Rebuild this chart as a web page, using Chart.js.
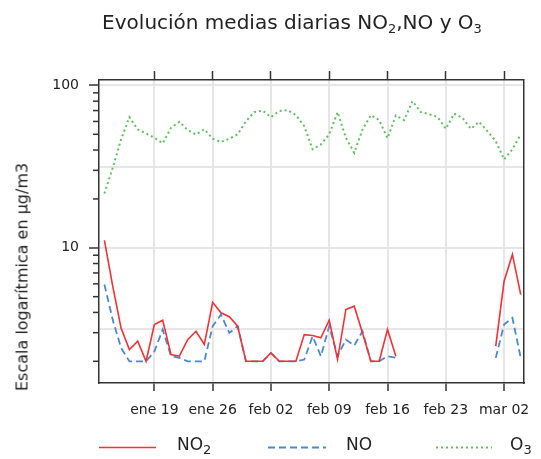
<!DOCTYPE html>
<html>
<head>
<meta charset="utf-8">
<script src="https://cdn.jsdelivr.net/npm/chart.js@4.4.1/dist/chart.umd.min.js"></script>
<style>
  html, body { margin: 0; padding: 0; background: #fff; }
  #wrap { position: relative; width: 541px; height: 459px; font-family: 'DejaVu Sans', sans-serif; color: #222; }
  #chart { position: absolute; left: 0; top: 0; }
  .title { position: absolute; left: 292px; top: 12px; transform: translateX(-50%); white-space: nowrap; font-size: 20px; line-height: 20px; }
  .ytitle { position: absolute; left: 22px; top: 277px; transform: translate(-50%, -50%) rotate(-90deg); white-space: nowrap; font-size: 16px; }
  .sub { font-size: 13px; vertical-align: -4px; line-height: 0; }
  .leg { position: absolute; top: 434px; font-size: 17px; line-height: 20px; white-space: nowrap; }
  #legLines { position: absolute; left: 0; top: 440px; }
</style>
</head>
<body>
<div id="wrap">
  <canvas id="chart" width="541" height="459"></canvas>
  <div class="title">Evolución medias diarias NO<span class="sub">2</span>,NO y O<span class="sub">3</span></div>
  <div class="ytitle">Escala logarítmica en µg/m3</div>
  <svg id="legLines" width="541" height="16">
    <line x1="99" y1="7.5" x2="156" y2="7.5" stroke="rgb(238,50,56)" stroke-width="1.6"/>
    <line x1="268" y1="7.5" x2="326" y2="7.5" stroke="rgb(74,138,204)" stroke-width="1.8" stroke-dasharray="7 4"/>
    <line x1="436" y1="7.5" x2="492" y2="7.5" stroke="rgb(96,188,96)" stroke-width="2" stroke-dasharray="2 3"/>
  </svg>
  <div class="leg" style="left:177px">NO<span class="sub">2</span></div>
  <div class="leg" style="left:346px">NO</div>
  <div class="leg" style="left:510px">O<span class="sub">3</span></div>
</div>
<script>
// daily means, day 0 = ene 13 ... day 50 = mar 04
const no2 = [11.1, 5.8, 3.2, 2.36, 2.66, 2.0, 3.37, 3.58, 2.2, 2.15,
  2.72, 3.06, 2.54, 4.62, 3.98, 3.76, 3.29, 2.0, 2.0, 2.0,
  2.25, 2.0, 2.0, 2.0, 2.92, 2.88, 2.79, 3.58, 2.05, 4.17,
  4.37, 2.99, 2.0, 2.0, 3.14, 2.15, null, null, null, null,
  null, null, null, null, null, null, null, 2.48, 6.22, 9.1, 5.15];
const no = [5.94, 3.6, 2.42, 2.0, 2.0, 2.0, 2.3, 3.14, 2.15, 2.1,
  2.0, 2.0, 2.0, 3.29, 3.88, 2.99, 3.29, 2.0, 2.0, 2.0,
  2.25, 2.0, 2.0, 2.0, 2.05, 2.85, 2.15, 3.29, 2.15, 2.72,
  2.5, 3.06, 2.0, 2.0, 2.15, 2.1, null, null, null, null,
  null, null, null, null, null, null, null, 2.1, 3.37, 3.7, 2.1];
const o3 = [21.6, 31.1, 46.5, 63.8, 53.6, 50.6, 47.6, 44, 54.8, 59.7,
  53.1, 49.9, 53.6, 47.0, 44.8, 47, 50, 60.2, 68.5, 70,
  63.8, 69.5, 70.5, 65.6, 56.1, 40.4, 43.3, 50, 68.5, 47.6,
  38.5, 53.6, 65.6, 61.1, 47.3, 65.3, 61.1, 80, 68.5, 66.5,
  64, 54.1, 67, 63.2, 54.1, 59.7, 52.2, 45.4, 35.0, 40.4, 50];

const tickDays = [6, 13, 20, 27, 34, 41, 48];
const tickLabels = ['ene 19', 'ene 26', 'feb 02', 'feb 09', 'feb 16', 'feb 23', 'mar 02'];
const yLabelTicks = [10, 100];
const yMinorTicks = [2, 3, 4, 5, 6, 7, 8, 9, 20, 30, 40, 50, 60, 70, 80, 90];
const yGridTicks = [3.1623, 10, 31.623, 100];

const toXY = arr => arr.map((v, i) => ({ x: i, y: v }));
const axisColor = '#333';
const gridColor = '#e6e6e6';
const clear = 'rgba(0,0,0,0)';

const minorTickPlugin = {
  id: 'minorTicks',
  afterDraw(chart) {
    const sc = chart.scales.y;
    const ctx = chart.ctx;
    const left = chart.chartArea.left;
    ctx.save();
    ctx.strokeStyle = axisColor;
    ctx.lineWidth = 1.5;
    yMinorTicks.forEach(v => {
      const py = sc.getPixelForValue(v);
      ctx.beginPath();
      ctx.moveTo(left - 6, py);
      ctx.lineTo(left, py);
      ctx.stroke();
    });
    ctx.restore();
  }
};

new Chart(document.getElementById('chart'), {
  type: 'line',
  data: {
    datasets: [
      { label: 'NO2', data: toXY(no2), borderColor: 'rgb(238,50,56)', borderWidth: 1.6 },
      { label: 'NO', data: toXY(no), borderColor: 'rgb(74,138,204)', borderWidth: 1.8, borderDash: [7, 4] },
      { label: 'O3', data: toXY(o3), borderColor: 'rgb(96,188,96)', borderWidth: 2, borderDash: [2, 3] }
    ]
  },
  options: {
    responsive: false,
    animation: false,
    devicePixelRatio: 1,
    spanGaps: false,
    layout: { padding: { left: 49, right: 7, top: 71, bottom: 42 } },
    elements: { point: { radius: 0 }, line: { tension: 0, fill: false } },
    plugins: { legend: { display: false }, tooltip: { enabled: false } },
    scales: {
      x: {
        type: 'linear', position: 'bottom', min: -0.65, max: 50.35,
        afterBuildTicks: s => { s.ticks = tickDays.map(v => ({ value: v })); },
        afterFit: s => { s.height = 34; },
        ticks: {
          autoSkip: false, maxRotation: 0, padding: 11, color: '#222',
          font: { family: 'DejaVu Sans', size: 14 },
          callback: v => tickLabels[tickDays.indexOf(v)]
        },
        grid: { color: gridColor, lineWidth: 2, tickColor: axisColor, tickLength: 8, tickWidth: 1.5 },
        border: { color: axisColor, width: 1.5 }
      },
      x2: {
        type: 'linear', position: 'top', min: -0.65, max: 50.35,
        afterBuildTicks: s => { s.ticks = tickDays.map(v => ({ value: v })); },
        afterFit: s => { s.height = 9; },
        ticks: { display: false },
        grid: { drawOnChartArea: false, tickColor: axisColor, tickLength: 9, tickWidth: 1.5 },
        border: { color: axisColor, width: 1.5 }
      },
      y: {
        type: 'logarithmic', position: 'left', min: 1.47, max: 108,
        afterBuildTicks: s => {
          s.ticks = [...yGridTicks, ...yMinorTicks].filter((v, i, a) => a.indexOf(v) === i)
            .sort((a, b) => a - b).map(v => ({ value: v }));
        },
        afterFit: s => { s.width = 50; },
        ticks: {
          autoSkip: false, padding: 10, color: '#222',
          font: { family: 'DejaVu Sans', size: 14 },
          callback: v => yLabelTicks.includes(v) ? String(v) : ''
        },
        grid: {
          lineWidth: 2,
          color: c => yGridTicks.includes(c.tick.value) ? gridColor : clear,
          tickColor: c => yLabelTicks.includes(c.tick.value) ? axisColor : clear,
          tickLength: 10, tickWidth: 1.5
        },
        border: { color: axisColor, width: 1.5 }
      },
      y2: {
        type: 'logarithmic', position: 'right', min: 1.47, max: 108,
        afterFit: s => { s.width = 0; },
        ticks: { display: false },
        grid: { display: false, drawTicks: false },
        border: { display: true, color: axisColor, width: 1.5 }
      }
    }
  },
  plugins: [minorTickPlugin]
});
</script>
</body>
</html>
